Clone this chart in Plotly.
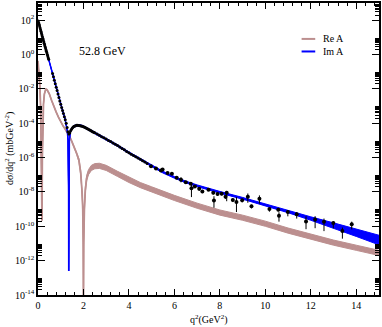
import numpy as np
import plotly.graph_objects as go

# ---------------- data ----------------
# Im A curve: q^2 (GeV^2) and dsigma/dq^2 (mb GeV^-2)
q_im = [0.0, 0.1, 0.2, 0.3, 0.4, 0.5, 0.6, 0.7, 0.8, 0.9, 1.0, 1.1, 1.18, 1.25, 1.29,
        1.32, 1.335, 1.345, 1.35, 1.355, 1.365, 1.38, 1.42, 1.5, 1.6, 1.75, 1.9, 2.0,
        2.25, 2.5, 3.0, 3.5, 4.0, 4.5, 5.0, 5.5, 6.0, 6.5, 7.0, 7.5, 8.0, 9.0, 10.0,
        11.0, 12.0, 13.0, 14.0, 15.0]
im_val = [1.0e2, 3.16e1, 1.0e1, 3.31, 1.12, 3.80e-1, 1.26e-1, 3.98e-2, 1.26e-2, 3.98e-3,
          1.26e-3, 4.47e-4, 2.0e-4, 7.94e-5, 3.55e-5, 1.0e-5, 1.0e-6, 1.0e-8, 2.51e-13,
          1.0e-8, 1.0e-6, 1.0e-5, 3.16e-5, 5.25e-5, 6.76e-5, 7.59e-5, 7.08e-5, 6.31e-5,
          4.17e-5, 2.75e-5, 1.20e-5, 5.01e-6, 1.91e-6, 7.94e-7, 3.16e-7, 1.41e-7, 7.08e-8,
          3.80e-8, 2.29e-8, 1.45e-8, 9.55e-9, 4.27e-9, 1.78e-9, 7.08e-10, 2.82e-10,
          1.12e-10, 4.17e-11, 1.58e-11]
# half width of the Im A band (decades)
im_spread = [0, 0, 0, 0, 0, 0, 0, 0, 0, 0, 0, 0, 0, 0, 0, 0, 0, 0, 0, 0, 0, 0, 0.03,
             0.05, 0.05, 0.05, 0.05, 0.05, 0.05, 0.05, 0.05, 0.05, 0.05, 0.05, 0.05, 0.05,
             0.05, 0.05, 0.05, 0.05, 0.05, 0.05, 0.05, 0.06, 0.10, 0.15, 0.21, 0.28]

# Re A curve
q_re = [0.0, 0.04, 0.08, 0.12, 0.155, 0.175, 0.19, 0.21, 0.24, 0.28, 0.34, 0.40, 0.5,
        0.6, 0.7, 0.8, 0.9, 1.0, 1.1, 1.2, 1.3, 1.4, 1.5, 1.6, 1.7, 1.8, 1.88, 1.94,
        1.97, 1.99, 2.0, 2.01, 2.04, 2.08, 2.14, 2.22, 2.35, 2.5, 2.7, 3.0, 3.5, 4.0,
        4.5, 5.0, 6.0, 7.0, 8.0, 9.0, 10.0, 11.0, 12.0, 13.0, 14.0, 15.0]
re_val = [4.17e-1, 1.26e-1, 1.58e-2, 6.31e-4, 1.58e-6, 2.24e-10, 1.0e-6, 1.0e-4, 1.26e-3,
          5.01e-3, 9.55e-3, 8.91e-3, 5.01e-3, 2.09e-3, 8.91e-4, 4.47e-4, 2.24e-4, 1.20e-4,
          7.08e-5, 4.47e-5, 2.82e-5, 1.58e-5, 7.94e-6, 3.98e-6, 1.78e-6, 7.08e-7, 1.26e-7,
          1.0e-8, 1.0e-9, 1.0e-11, 1.0e-15, 1.0e-11, 1.0e-9, 1.26e-8, 6.31e-8, 1.41e-7,
          2.51e-7, 3.16e-7, 3.31e-7, 2.51e-7, 1.12e-7, 5.01e-8, 2.51e-8, 1.41e-8, 4.47e-9,
          1.58e-9, 6.31e-10, 3.16e-10, 1.41e-10, 5.62e-11, 2.51e-11, 1.12e-11, 5.62e-12,
          2.82e-12]
re_spread = [0.03] * 24 + [0.06, 0.10, 0.13] + [0.15] * 27

# measured points, dense part (error bars hidden under the markers)
q_dense = [0.01, 0.03, 0.05, 0.07, 0.09, 0.11, 0.13, 0.15, 0.17, 0.19, 0.21, 0.23, 0.25,
           0.27, 0.29, 0.31, 0.33, 0.35, 0.37, 0.39, 0.41, 0.43, 0.45, 0.47,
           0.64, 0.68, 0.72, 0.76, 0.80, 0.84, 0.88, 0.92, 0.96, 1.00, 1.04, 1.08, 1.12,
           1.16, 1.20, 1.24, 1.28, 1.32, 1.36, 1.40, 1.44,
           1.48, 1.52, 1.56, 1.60, 1.65, 1.70, 1.75, 1.80, 1.85, 1.90, 1.95, 2.00, 2.05,
           2.10, 2.15, 2.20, 2.25, 2.30, 2.35, 2.40, 2.45, 2.50, 2.60, 2.70, 2.80, 2.90,
           3.00, 3.10, 3.20, 3.30, 3.40, 3.50, 3.60, 3.70, 3.80, 3.90, 4.00, 4.10, 4.20,
           4.30, 4.40, 4.50, 4.60, 4.70, 4.80]
sig_dense = [8.91e1, 7.08e1, 5.75e1, 4.57e1, 3.63e1, 2.82e1, 2.24e1, 1.78e1, 1.41e1,
             1.12e1, 8.91, 7.24, 5.75, 4.57, 3.72, 2.95, 2.40, 1.91, 1.55, 1.26, 1.0,
             8.13e-1, 6.46e-1, 5.25e-1,
             7.94e-2, 5.01e-2, 3.16e-2, 2.0e-2, 1.26e-2, 7.94e-3, 5.01e-3, 3.16e-3,
             2.0e-3, 1.26e-3, 8.32e-4, 5.50e-4, 3.63e-4, 2.40e-4, 1.58e-4, 1.0e-4,
             5.62e-5, 3.16e-5, 2.40e-5, 2.82e-5, 3.72e-5,
             4.68e-5, 5.50e-5, 6.17e-5, 6.76e-5, 7.24e-5, 7.59e-5, 7.59e-5, 7.41e-5,
             7.24e-5, 6.92e-5, 6.61e-5, 6.31e-5, 5.89e-5, 5.37e-5, 5.01e-5, 4.57e-5,
             4.17e-5, 3.89e-5, 3.55e-5, 3.24e-5, 3.02e-5, 2.75e-5, 2.34e-5, 2.0e-5,
             1.66e-5, 1.41e-5, 1.20e-5, 1.0e-5, 8.51e-6, 7.08e-6, 6.03e-6, 5.01e-6,
             4.17e-6, 3.39e-6, 2.82e-6, 2.29e-6, 1.91e-6, 1.58e-6, 1.32e-6, 1.12e-6,
             9.33e-7, 7.94e-7, 6.61e-7, 5.50e-7, 4.57e-7]

# measured points, large-q^2 part, with error bars (in decades, up / down)
q_pts = [4.97, 5.19, 5.41, 5.48, 5.70, 5.89, 6.10, 6.29, 6.50, 6.72, 6.75, 6.90, 7.09,
         7.23, 7.50, 7.71, 7.74, 7.90, 8.08, 8.25, 8.30, 8.57, 8.73, 8.98, 9.23, 9.39,
         9.74, 10.18, 10.57, 10.60, 10.99, 11.38, 11.79, 12.19, 12.58, 12.99, 13.39, 13.80]
sig_pts = [3.16e-7, 2.29e-7, 1.78e-7, 2.0e-7, 1.26e-7, 1.15e-7, 6.61e-8, 5.13e-8, 3.72e-8,
           3.02e-8, 1.66e-8, 2.09e-8, 1.51e-8, 1.07e-8, 1.35e-8, 8.91e-9, 3.16e-9,
           7.59e-9, 7.94e-9, 5.25e-9, 9.12e-9, 3.39e-9, 2.57e-9, 3.24e-9, 5.25e-9,
           1.45e-9, 4.07e-9, 1.0e-9, 9.33e-10, 4.17e-10, 6.76e-10, 5.01e-10, 1.91e-10,
           2.45e-10, 1.86e-10, 1.55e-10, 5.37e-11, 1.32e-10]
err_up = [0.04, 0.04, 0.05, 0.05, 0.05, 0.05, 0.06, 0.15, 0.06, 0.06, 0.25, 0.06, 0.10,
          0.08, 0.07, 0.08, 0.25, 0.08, 0.08, 0.10, 0.10, 0.10, 0.29, 0.10, 0.19, 0.10,
          0.19, 0.08, 0.10, 0.20, 0.10, 0.12, 0.30, 0.20, 0.18, 0.10, 0.20, 0.15]
err_dn = [0.04, 0.04, 0.05, 0.05, 0.05, 0.05, 0.06, 0.15, 0.06, 0.06, 0.52, 0.06, 0.12,
          0.10, 0.07, 0.10, 0.42, 0.10, 0.10, 0.12, 0.50, 0.12, 0.58, 0.12, 0.35, 0.12,
          0.29, 0.15, 0.10, 0.35, 0.25, 0.25, 0.45, 0.50, 0.55, 0.30, 0.45, 0.30]

x_ticks = [0, 2, 4, 6, 8, 10, 12, 14]
y_tick_exp = [-14, -12, -10, -8, -6, -4, -2, 0, 2]
energy_label = "52.8 GeV"
series_names = ["Re A", "Im A"]

# ---------------- styling ----------------
RE_COLOR = "#BC8F8F"
IM_COLOR = "#0000FF"
FONT = "Liberation Serif, Times New Roman, serif"

im = np.array(im_val)
im_s = np.array(im_spread)
re = np.array(re_val)
re_s = np.array(re_spread)
sp = np.array(sig_pts)
eu = sp * (10 ** np.array(err_up) - 1)
ed = sp * (1 - 10 ** (-np.array(err_dn)))

fig = go.Figure()

# Re A band
fig.add_trace(go.Scatter(x=q_re, y=re / 10 ** re_s, mode="lines",
                         line=dict(color=RE_COLOR, width=1), showlegend=False, hoverinfo="skip"))
fig.add_trace(go.Scatter(x=q_re, y=re * 10 ** re_s, mode="lines", fill="tonexty",
                         fillcolor=RE_COLOR, line=dict(color=RE_COLOR, width=1),
                         showlegend=False, hoverinfo="skip"))
fig.add_trace(go.Scatter(x=q_re, y=re, mode="lines", name=series_names[0],
                         line=dict(color=RE_COLOR, width=1.8), showlegend=False))

# Im A band
fig.add_trace(go.Scatter(x=q_im, y=im / 10 ** im_s, mode="lines",
                         line=dict(color=IM_COLOR, width=1), showlegend=False, hoverinfo="skip"))
fig.add_trace(go.Scatter(x=q_im, y=im * 10 ** im_s, mode="lines", fill="tonexty",
                         fillcolor=IM_COLOR, line=dict(color=IM_COLOR, width=1),
                         showlegend=False, hoverinfo="skip"))
fig.add_trace(go.Scatter(x=q_im, y=im, mode="lines", name=series_names[1],
                         line=dict(color=IM_COLOR, width=1.5), showlegend=False))

# data
fig.add_trace(go.Scatter(x=q_dense, y=sig_dense, mode="markers",
                         marker=dict(color="black", size=3), showlegend=False))
fig.add_trace(go.Scatter(x=q_pts, y=sig_pts, mode="markers",
                         marker=dict(color="black", size=4),
                         error_y=dict(type="data", symmetric=False, array=eu, arrayminus=ed,
                                      color="black", thickness=1, width=0),
                         showlegend=False))

minor_y = []
for e in range(-14, 3, 2):
    for k in range(2, 10):
        minor_y.append(k * 10.0 ** e)

fig.update_xaxes(range=[0, 15], tickvals=x_ticks, ticks="inside", ticklen=6, tickwidth=1,
                 tickcolor="black", showline=True, linecolor="black", linewidth=1.5,
                 mirror="allticks", showgrid=False, zeroline=False,
                 tickfont=dict(family=FONT, size=10, color="black"),
                 minor=dict(dtick=0.4, tick0=0, ticks="inside", ticklen=3,
                            tickcolor="black", showgrid=False))
fig.update_yaxes(type="log", range=[-14, 3],
                 tickvals=[10.0 ** e for e in y_tick_exp],
                 ticktext=["10<sup>%d</sup>" % e for e in y_tick_exp],
                 ticks="inside", ticklen=7, tickwidth=1, tickcolor="black",
                 showline=True, linecolor="black", linewidth=1.5, mirror="allticks",
                 showgrid=False, zeroline=False,
                 tickfont=dict(family=FONT, size=10, color="black"),
                 minor=dict(tickmode="array", tickvals=minor_y, ticks="inside", ticklen=4,
                            tickcolor="black", showgrid=False))

annotations = [
    dict(text="q<sup>2</sup>(GeV<sup>2</sup>)", x=0.5, y=-0.085, xref="paper", yref="paper",
         xanchor="center", yanchor="middle", showarrow=False,
         font=dict(family=FONT, size=10, color="black")),
    dict(text="dσ/dq<sup>2</sup> (mbGeV<sup>-2</sup>)", x=-0.085, y=0.5, xref="paper",
         yref="paper", xanchor="center", yanchor="middle", textangle=-90, showarrow=False,
         font=dict(family=FONT, size=10, color="black")),
    dict(text=energy_label, x=0.19, y=0.836, xref="paper", yref="paper",
         xanchor="center", yanchor="middle", showarrow=False,
         font=dict(family=FONT, size=12, color="black")),
    dict(text=series_names[0], x=0.831, y=0.877, xref="paper", yref="paper",
         xanchor="left", yanchor="middle", showarrow=False,
         font=dict(family=FONT, size=10, color="black")),
    dict(text=series_names[1], x=0.831, y=0.834, xref="paper", yref="paper",
         xanchor="left", yanchor="middle", showarrow=False,
         font=dict(family=FONT, size=10, color="black")),
]
shapes = [
    dict(type="line", xref="paper", yref="paper", x0=0.773, x1=0.813, y0=0.877, y1=0.877,
         line=dict(color=RE_COLOR, width=2)),
    dict(type="line", xref="paper", yref="paper", x0=0.773, x1=0.813, y0=0.834, y1=0.834,
         line=dict(color=IM_COLOR, width=2)),
]

fig.update_layout(width=382, height=327, autosize=False,
                  margin=dict(l=38, r=1, t=2, b=32),
                  paper_bgcolor="white", plot_bgcolor="white",
                  annotations=annotations, shapes=shapes, showlegend=False,
                  font=dict(family=FONT, color="black"))

fig.write_html("out.html", config={"displayModeBar": False},
               post_script="document.body.style.margin='0';document.body.style.overflow='hidden';")
